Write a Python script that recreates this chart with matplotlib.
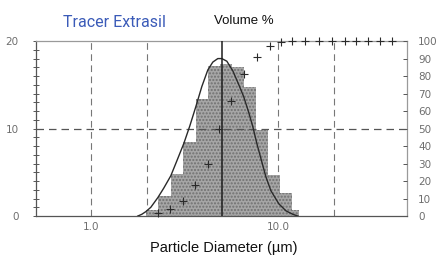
from __future__ import annotations

import matplotlib

matplotlib.use("Agg")
import matplotlib.pyplot as plt
from matplotlib.ticker import FixedLocator, MultipleLocator, NullFormatter, NullLocator

# Histogram bins (particle diameter, um) and volume % per bin
bin_edges = [1.97, 2.28, 2.68, 3.10, 3.64, 4.22, 4.90, 5.68, 6.58, 7.63, 8.84, 10.24, 11.87, 12.9]
bin_heights = [0.7, 2.3, 4.8, 8.5, 13.4, 17.2, 17.4, 17.0, 14.7, 9.8, 4.7, 2.6, 0.7]

# Fitted distribution curve
curve_d = [1.784, 1.874, 1.968, 2.094, 2.282, 2.457, 2.678, 2.884, 3.144, 3.384,
           3.644, 3.923, 4.224, 4.492, 4.777, 5.018, 5.337, 5.745, 6.186, 6.578,
           6.997, 7.350, 7.721, 8.111, 8.626, 9.175, 10.12, 11.04, 12.03, 12.79]
curve_v = [0.0, 0.2, 0.5, 1.0, 2.1, 3.2, 4.6, 6.3, 8.3, 10.3,
           12.5, 14.8, 16.7, 17.6, 18.0, 18.0, 17.7, 16.6, 15.0, 13.6,
           11.8, 10.2, 8.3, 6.6, 4.5, 2.9, 1.4, 0.6, 0.2, 0.0]

# Cumulative volume % markers (right axis)
cum_d = [2.28, 2.65, 3.10, 3.60, 4.22, 4.84, 5.61, 6.58, 7.72, 9.06, 10.4, 11.9,
         13.9, 16.6, 19.4, 22.8, 26.1, 30.3, 35.1, 40.7]
cum_v = [1.7, 4.0, 8.6, 17.5, 30.0, 50.0, 66.0, 81.0, 91.0, 97.0, 99.5, 100.0,
         100.0, 100.0, 100.0, 100.0, 100.0, 100.0, 100.0, 100.0]

grid_d = [1.0, 2.0, 10.0, 20.0]
median_d = 5.0
x_tick_values = [1.0, 10.0]
x_tick_labels = ["1.0", "10.0"]

LABEL_GRAY = "#6e6e6e"
FRAME_GRAY = "#555555"

fig = plt.figure(figsize=(4.37, 2.60), dpi=100)
ax = fig.add_axes([0.0824, 0.169, 0.849, 0.673])

widths = [b - a for a, b in zip(bin_edges[:-1], bin_edges[1:])]
ax.bar(
    bin_edges[:-1],
    bin_heights,
    width=widths,
    align="edge",
    color="#a6a6a6",
    edgecolor="#707070",
    hatch=".....",
    linewidth=0,
    zorder=2,
)
ax.plot(curve_d, curve_v, color="#2a2a2a", linewidth=1.0, zorder=4)

for d in grid_d:
    ax.axvline(d, color="#777777", linestyle=(0, (6, 4)), linewidth=0.8, zorder=1)
ax.axhline(10, color="#555555", linestyle=(0, (6, 4)), linewidth=0.9, zorder=3)
ax.axvline(median_d, color="#1e1e1e", linewidth=1.1, zorder=5)

ax.set_xscale("log")
ax.set_xlim(0.51, 49)
ax.set_ylim(0, 20)
ax.xaxis.set_major_locator(FixedLocator(x_tick_values))
ax.set_xticklabels(x_tick_labels)
ax.xaxis.set_minor_locator(NullLocator())
ax.xaxis.set_minor_formatter(NullFormatter())
ax.tick_params(axis="x", length=0, labelsize=7.5, labelcolor=LABEL_GRAY, pad=4)

ax.yaxis.set_major_locator(FixedLocator([0, 10, 20]))
ax.yaxis.set_minor_locator(MultipleLocator(1))
ax.tick_params(axis="y", which="major", direction="inout", length=5, width=0.7,
               color=FRAME_GRAY, labelsize=7.5, labelcolor=LABEL_GRAY, pad=10)
ax.tick_params(axis="y", which="minor", direction="inout", length=5, width=0.7,
               color=FRAME_GRAY)

for side, spine in ax.spines.items():
    spine.set_color(FRAME_GRAY if side in ("left", "bottom") else "#9a9a9a")
    spine.set_linewidth(0.9)

ax2 = ax.twinx()
ax2.set_ylim(0, 100)
ax2.plot(cum_d, cum_v, linestyle="none", marker="+", markersize=6,
         markeredgewidth=0.8, color="#2a2a2a", zorder=6, clip_on=False)
ax2.yaxis.set_major_locator(MultipleLocator(10))
ax2.tick_params(axis="y", direction="in", length=3, width=0.7, color=FRAME_GRAY,
                labelsize=7.5, labelcolor=LABEL_GRAY, pad=8)
for spine in ax2.spines.values():
    spine.set_visible(False)

fig.text(0.263, 0.915, "Tracer Extrasil", color="#3b5bb8", fontsize=11.5,
         ha="center", va="center",
         family=["Liberation Sans Narrow", "Roboto", "DejaVu Sans"])
fig.text(0.558, 0.920, "Volume %", color="#111111", fontsize=9.5,
         ha="center", va="center", family=["Liberation Sans", "DejaVu Sans"])
fig.text(0.512, 0.046, "Particle Diameter (\u00b5m)", color="#111111", fontsize=10.5,
         ha="center", va="center", family=["Liberation Sans", "DejaVu Sans"])

plt.savefig("out.png", dpi=100)
plt.close()
